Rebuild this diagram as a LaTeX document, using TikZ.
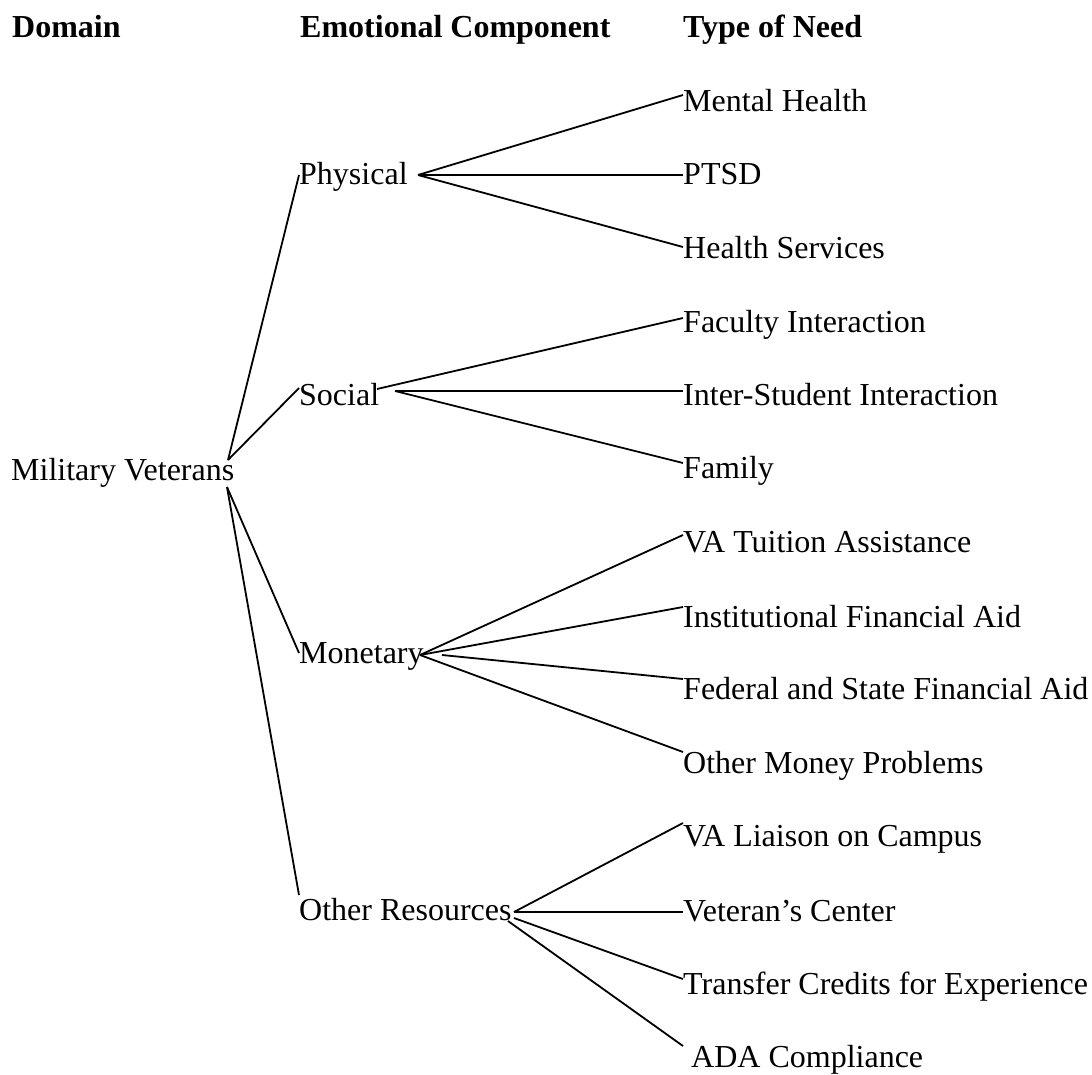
\documentclass[tikz,border=0pt]{standalone}
\usepackage{fontspec}
\setmainfont{Liberation Serif}
\begin{document}
\begin{tikzpicture}[x=1pt,y=-1pt,
  txt/.style={anchor=base west, inner sep=0pt, font=\fontsize{32}{38}\selectfont},
  hdr/.style={anchor=base west, inner sep=0pt, font=\fontsize{32}{38}\selectfont\bfseries},
  conn/.style={line width=1.8pt, black}]
\useasboundingbox (0,0) rectangle (1092,1074);
% headers
\node[hdr] (hdA) at (12,37) {Domain};
\node[hdr] (hdB) at (300,37) {Emotional Component};
\node[hdr] (hdC) at (683,37) {Type of Need};
% domain
\node[txt] (mv) at (11,480) {Military Veterans};
% components
\node[txt] (phys) at (299,184) {Physical};
\node[txt] (soc) at (299,405) {Social};
\node[txt] (mon) at (299,663) {Monetary};
\node[txt] (oth) at (299,920) {Other Resources};
% needs
\node[txt] (n1) at (683,111) {Mental Health};
\node[txt] (n2) at (683,184) {PTSD};
\node[txt] (n3) at (683,258) {Health Services};
\node[txt] (n4) at (683,332) {Faculty Interaction};
\node[txt] (n5) at (683,405) {Inter-Student Interaction};
\node[txt] (n6) at (683,478) {Family};
\node[txt] (n7) at (683,552) {VA Tuition Assistance};
\node[txt] (n8) at (683,627) {Institutional Financial Aid};
\node[txt] (n9) at (683,699) {Federal and State Financial Aid};
\node[txt] (n10) at (683,773) {Other Money Problems};
\node[txt] (n11) at (683,846) {VA Liaison on Campus};
\node[txt] (n12) at (683,921) {Veteran’s Center};
\node[txt] (n13) at (683,994) {Transfer Credits for Experience};
\node[txt] (n14) at (691,1067) {ADA Compliance};
% connector end points
\coordinate (mvA) at (228,460);
\coordinate (mvB) at (227,487);
\coordinate (physIn) at (299,175);
\coordinate (socIn) at (299,388);
\coordinate (monIn) at (299,653);
\coordinate (othIn) at (299,895);
\coordinate (physOut) at (418,175);
\coordinate (socOutA) at (377,389);
\coordinate (socOutB) at (395,391);
\coordinate (monOutA) at (420,655);
\coordinate (monOutB) at (442,655);
\coordinate (othOutA) at (514,912);
\coordinate (othOutB) at (514,918);
\coordinate (othOutC) at (508,921);
\coordinate (n1In) at (683,95);
\coordinate (n2In) at (683,175);
\coordinate (n3In) at (683,247);
\coordinate (n4In) at (683,318);
\coordinate (n5In) at (683,391);
\coordinate (n6In) at (683,463);
\coordinate (n7In) at (683,535);
\coordinate (n8In) at (683,607);
\coordinate (n9In) at (683,679);
\coordinate (n10In) at (683,752);
\coordinate (n11In) at (683,823);
\coordinate (n12In) at (683,912);
\coordinate (n13In) at (683,979);
\coordinate (n14In) at (683,1046);
% connectors
\draw[conn] (mvA) -- (physIn);
\draw[conn] (mvA) -- (socIn);
\draw[conn] (mvB) -- (monIn);
\draw[conn] (mvB) -- (othIn);
\draw[conn] (physOut) -- (n1In);
\draw[conn] (physOut) -- (n2In);
\draw[conn] (physOut) -- (n3In);
\draw[conn] (socOutA) -- (n4In);
\draw[conn] (socOutB) -- (n5In);
\draw[conn] (socOutB) -- (n6In);
\draw[conn] (monOutA) -- (n7In);
\draw[conn] (monOutA) -- (n8In);
\draw[conn] (monOutB) -- (n9In);
\draw[conn] (monOutA) -- (n10In);
\draw[conn] (othOutA) -- (n11In);
\draw[conn] (othOutA) -- (n12In);
\draw[conn] (othOutB) -- (n13In);
\draw[conn] (othOutC) -- (n14In);
\end{tikzpicture}
\end{document}
